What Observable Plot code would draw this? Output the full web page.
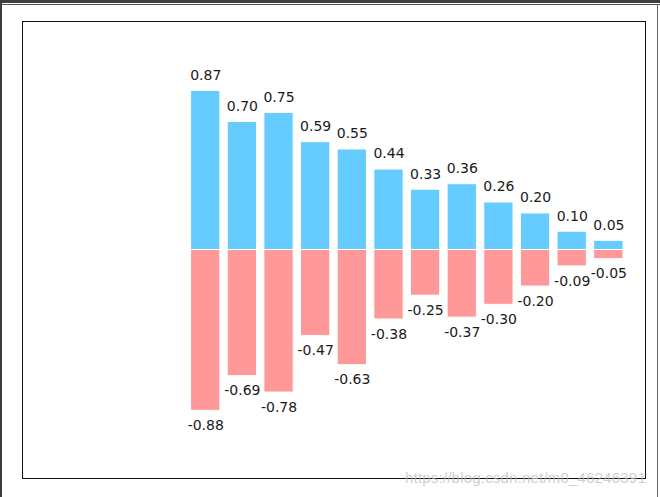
<!DOCTYPE html>
<html>
<head>
<meta charset="utf-8">
<script src="https://cdn.jsdelivr.net/npm/d3@7"></script>
<script src="https://cdn.jsdelivr.net/npm/@observablehq/plot@0.6"></script>
<style>
  html, body { margin: 0; padding: 0; background: #fff; }
  #wrap { position: relative; width: 660px; height: 497px; overflow: hidden; }
  #chart { position: absolute; left: 0; top: 0; }
  .bt { position: absolute; left: 0; top: 0; width: 660px; height: 3px; background: #3c3f41; }
  .bt2 { position: absolute; left: 0; top: 4px; width: 660px; height: 1px; background: #555; }
  .bl { position: absolute; left: 0; top: 0; width: 2px; height: 497px; background: #3c3f41; }
  .br { position: absolute; left: 657px; top: 4px; width: 1px; height: 493px; background: #666; }
  .wm { position: absolute; left: 405px; top: 469px; font-family: "Liberation Sans", Arial, sans-serif;
        font-size: 15px; color: rgba(190,190,190,0.75); white-space: nowrap; letter-spacing: 0.2px; }
</style>
</head>
<body>
<div id="wrap">
  <div id="chart"></div>
  <div class="bt"></div>
  <div class="bt2"></div>
  <div class="bl"></div>
  <div class="br"></div>
  <div class="wm">https://blog.csdn.net/m0_46246391</div>
</div>
<script>
const positions = [0, 1, 2, 3, 4, 5, 6, 7, 8, 9, 10, 11];
const upValues = [0.87, 0.70, 0.75, 0.59, 0.55, 0.44, 0.33, 0.36, 0.26, 0.20, 0.10, 0.05];
const downValues = [-0.88, -0.69, -0.78, -0.47, -0.63, -0.38, -0.25, -0.37, -0.30, -0.20, -0.09, -0.05];

const up = positions.map((x, i) => ({x, v: upValues[i]}));
const down = positions.map((x, i) => ({x, v: downValues[i]}));

const chart = Plot.plot({
  width: 660,
  height: 497,
  marginLeft: 22,
  marginRight: 15,
  marginTop: 21,
  marginBottom: 19,
  x: {domain: [-5, 12], axis: null},
  y: {domain: [-1.25, 1.25], axis: null},
  style: {fontFamily: "DejaVu Sans, sans-serif", background: "transparent"},
  marks: [
    Plot.rectY(up, {x1: d => d.x - 0.4, x2: d => d.x + 0.4, y1: 0, y2: "v", fill: "#66ccff", stroke: "white", strokeWidth: 1}),
    Plot.rectY(down, {x1: d => d.x - 0.4, x2: d => d.x + 0.4, y1: 0, y2: "v", fill: "#ff9999", stroke: "white", strokeWidth: 1}),
    Plot.text(up, {x: "x", y: d => d.v + 0.05, text: d => d.v.toFixed(2), lineAnchor: "bottom", dy: -2, fontSize: 14, fill: "#1a1a1a"}),
    Plot.text(down, {x: "x", y: d => d.v - 0.05, text: d => d.v.toFixed(2), lineAnchor: "top", dy: 0, fontSize: 14, fill: "#1a1a1a"}),
    Plot.frame({stroke: "#111", strokeWidth: 1})
  ]
});
document.getElementById("chart").appendChild(chart);
</script>
</body>
</html>
